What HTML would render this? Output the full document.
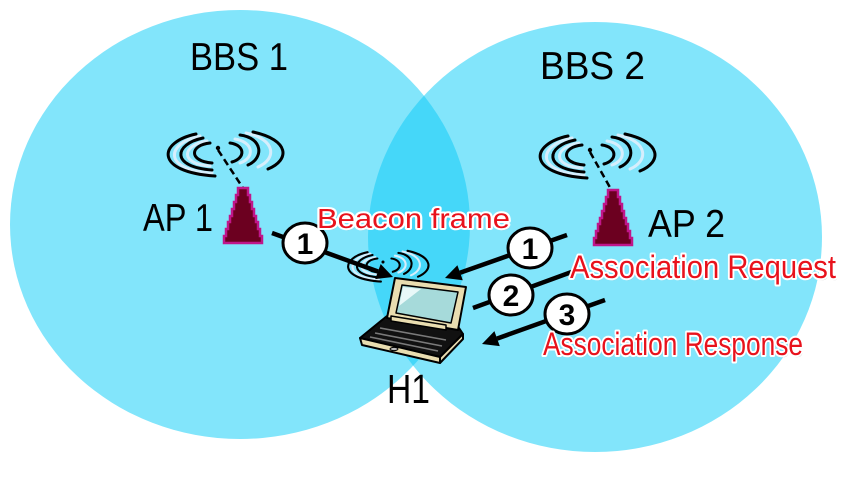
<!DOCTYPE html>
<html>
<head>
<meta charset="utf-8">
<style>
html,body{margin:0;padding:0;background:#fff;}
svg{display:block;}
.blk{font-family:"Liberation Sans",sans-serif;fill:#000;}
.red{font-family:"Liberation Sans",sans-serif;fill:#e8121c;stroke:#fff;stroke-width:4;paint-order:stroke;stroke-linejoin:round;}
.num{font-family:"Liberation Sans",sans-serif;font-weight:bold;font-size:30px;fill:#000;text-anchor:middle;}
</style>
</head>
<body>
<svg width="850" height="481" viewBox="0 0 850 481" xmlns="http://www.w3.org/2000/svg">
<defs>
  <clipPath id="leftClip"><ellipse cx="240" cy="224.5" rx="230" ry="214.5"/></clipPath>
  <g id="waves" fill="none" stroke-linecap="round">
    <g stroke="#d6eefc" stroke-width="3">
      <path d="M -11,-7 C -36,-3 -39,16 -8,18"/>
      <path d="M -18,-12 C -52,-5 -56,22 -6,25"/>
      <path d="M 17,-9 C 36,-6 37,10 22,15"/>
      <path d="M 28,-15 C 58,-9 59,11 40,19"/>
    </g>
    <g stroke="#000" stroke-width="3">
      <path d="M -8,-5 C -28,-3 -30,13 -6,15"/>
      <path d="M -15,-10 C -44,-4 -48,19 -6,22"/>
      <path d="M -22,-14 C -60,-6 -64,24 -3,28"/>
      <path d="M 12,-5 C 27,-3 28,10 14,14"/>
      <path d="M 22,-13 C 45,-10 46,10 30,17"/>
      <path d="M 35,-16 C 72,-8 72,12 50,21"/>
    </g>
    <circle cx="0" cy="0" r="2.2" fill="#000"/>
  </g>
  <polygon id="tower" fill="#6c0020" stroke="#c0168a" stroke-width="2.5" stroke-linejoin="miter"
    points="5,0 5,7 7,7 7,14 9,14 9,21 11,21 11,28 13,28 13,34 15,34 15,41 17,41 17,48 19,48 19,55 -19,55 -19,48 -17,48 -17,41 -15,41 -15,34 -13,34 -13,28 -11,28 -11,21 -9,21 -9,14 -7,14 -7,7 -5,7 -5,0"/>
</defs>

<!-- coverage ellipses -->
<ellipse cx="240" cy="224.5" rx="230" ry="214.5" fill="#82e5fb"/>
<ellipse cx="595" cy="237" rx="227" ry="215" fill="#82e5fb"/>
<ellipse cx="595" cy="237" rx="227" ry="215" fill="#45d7f9" clip-path="url(#leftClip)"/>

<!-- titles -->
<text class="blk" x="190" y="70" font-size="39" textLength="98" lengthAdjust="spacingAndGlyphs">BBS 1</text>
<text class="blk" x="540" y="79" font-size="39" textLength="105" lengthAdjust="spacingAndGlyphs">BBS 2</text>
<text class="blk" x="143" y="231" font-size="39" textLength="70" lengthAdjust="spacingAndGlyphs">AP 1</text>
<text class="blk" x="648" y="237" font-size="39" textLength="77" lengthAdjust="spacingAndGlyphs">AP 2</text>
<text class="blk" x="387" y="403" font-size="41" textLength="43" lengthAdjust="spacingAndGlyphs">H1</text>

<!-- AP1 -->
<use href="#waves" transform="translate(218,148)"/>
<line x1="218" y1="150" x2="243" y2="188" stroke="#000" stroke-width="2.5" stroke-dasharray="7 4"/>
<use href="#tower" transform="translate(243,188)"/>

<!-- AP2 -->
<use href="#waves" transform="translate(590,150)"/>
<line x1="590" y1="152" x2="612" y2="191" stroke="#000" stroke-width="2.5" stroke-dasharray="7 4"/>
<use href="#tower" transform="translate(613,190)"/>

<!-- laptop waves -->
<use href="#waves" transform="translate(383,262) scale(0.7)"/>

<!-- laptop -->
<g stroke="#000" stroke-width="2" stroke-linejoin="round">
  <polygon points="387,316 459,328 463,334 440,357 360,338" fill="#111"/>
  <g stroke="#7a7a7a" stroke-width="1.6">
    <line x1="380" y1="328" x2="446" y2="340"/>
    <line x1="375" y1="333" x2="442" y2="346"/>
    <line x1="370" y1="337" x2="438" y2="351"/>
  </g>
  <polygon points="360,338 440,357 440,363 362,345" fill="#e9ddb0"/>
  <polygon points="440,357 463,334 463,339 440,363" fill="#e9ddb0"/>
  <ellipse cx="394" cy="349" rx="4" ry="1.6" fill="#bbb" stroke-width="1"/>
  <polygon points="395,278 466,287 458,330 387,318" fill="#e9ddb0"/>
  <polygon points="402,285 458,292 451,323 396,313" fill="#a6dada" stroke-width="1.5"/>
  <polygon points="403,287 421,289 399,306" fill="#e8f8f8" stroke="none"/>
  <polygon points="391,316 446,325 446,330 391,321" fill="#e9ddb0" stroke-width="1.5"/>
</g>

<!-- arrows -->
<g stroke="#000" stroke-width="4.5" stroke-linecap="butt">
  <line x1="272" y1="233" x2="378" y2="271.5"/>
  <line x1="567" y1="235" x2="460" y2="272.7"/>
  <line x1="473" y1="308" x2="577" y2="270"/>
  <line x1="605" y1="300" x2="497" y2="338.6"/>
</g>
<g fill="#000">
  <polygon points="393,277 375.2,279.1 380.7,264.0"/>
  <polygon points="445,278 457.4,265.2 462.8,280.2"/>
  <polygon points="482,344 494.4,331.1 499.8,346.1"/>
</g>

<!-- numbered circles -->
<g fill="#fff" stroke="#000" stroke-width="3">
  <ellipse cx="305" cy="243" rx="22" ry="20"/>
  <ellipse cx="530" cy="248" rx="22" ry="20"/>
  <ellipse cx="511" cy="295" rx="22" ry="20"/>
  <ellipse cx="567" cy="314" rx="22" ry="20"/>
</g>
<text class="num" x="305" y="254">1</text>
<text class="num" x="530" y="259">1</text>
<text class="num" x="511" y="306">2</text>
<text class="num" x="567" y="325">3</text>

<!-- red labels -->
<g fill="#9a9a9a" font-family="Liberation Sans, sans-serif" opacity="0.5">
  <text x="318" y="230" font-size="28" textLength="193" lengthAdjust="spacingAndGlyphs">Beacon frame</text>
  <text x="571" y="280" font-size="32" textLength="266" lengthAdjust="spacingAndGlyphs">Association Request</text>
  <text x="544" y="357" font-size="32" textLength="260" lengthAdjust="spacingAndGlyphs">Association Response</text>
</g>
<text class="red" x="317" y="228" font-size="28" textLength="193" lengthAdjust="spacingAndGlyphs">Beacon frame</text>
<text class="red" x="570" y="278" font-size="32" textLength="266" lengthAdjust="spacingAndGlyphs">Association Request</text>
<text class="red" x="543" y="355" font-size="32" textLength="260" lengthAdjust="spacingAndGlyphs">Association Response</text>
</svg>
</body>
</html>
